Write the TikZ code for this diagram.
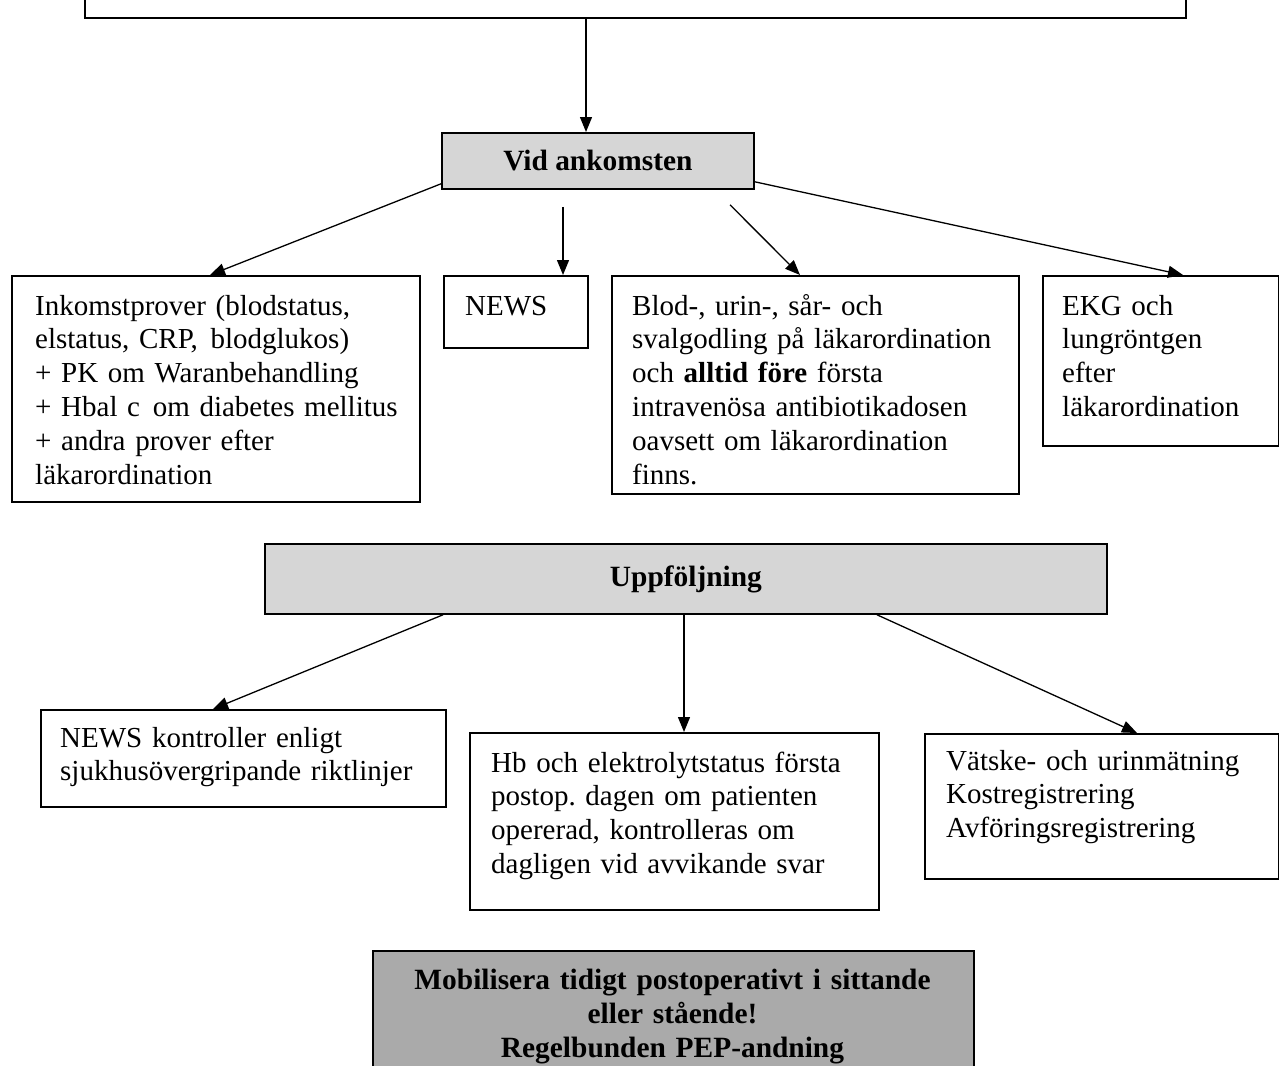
\documentclass[tikz,border=0pt]{standalone}
\usepackage{fontspec}
\setmainfont{Liberation Serif}
\usetikzlibrary{arrows.meta,calc}
\definecolor{lightfill}{RGB}{214,214,214}
\definecolor{darkfill}{RGB}{170,170,170}
\begin{document}
\begin{tikzpicture}[x=1pt,y=-1pt,
  box/.style={draw=black, line width=1.8pt, rectangle, inner sep=0pt, anchor=north west},
  hdr/.style={box, fill=lightfill, font=\fontsize{29.4}{33.8}\selectfont\bfseries},
  txt/.style={anchor=base west, inner sep=0pt, text width=500pt, align=left, font=\fontsize{29}{33.8}\selectfont},
  arr/.style={line width=1.3pt, -{Triangle[length=15pt,width=12pt]}}
]
\useasboundingbox (0,0) rectangle (1279,1065);
\clip (0,0) rectangle (1279,1065);

% boxes
\node[box, minimum width=1101pt, minimum height=77pt] (top) at (84,-60) {};
\node[hdr, minimum width=312pt, minimum height=56pt] (vid) at (441,132) {Vid ankomsten};
\node[box, minimum width=408pt, minimum height=226pt] (ink) at (11,275) {};
\node[box, minimum width=144pt, minimum height=72pt] (news) at (443,275) {};
\node[box, minimum width=407pt, minimum height=218pt] (blod) at (611,275) {};
\node[box, minimum width=236pt, minimum height=170pt] (ekg) at (1042,275) {};
\node[hdr, minimum width=842pt, minimum height=70pt] (upp) at (264,543) {Uppföljning};
\node[box, minimum width=405pt, minimum height=97pt] (nk) at (40,709) {};
\node[box, minimum width=409pt, minimum height=177pt] (hb) at (469,732) {};
\node[box, minimum width=354pt, minimum height=145pt] (vat) at (924,733) {};
\node[box, fill=darkfill, minimum width=601pt, minimum height=140pt] (mob) at (372,950) {};

% texts
\node[txt] (inkt) at (35,315) {Inkomstprover (blodstatus,\\elstatus, CRP,\hspace{3pt} blodglukos)\\+ PK om Waranbehandling\\+ Hbal c\hspace{3pt} om diabetes mellitus\\+ andra prover efter\\läkarordination};
\node[txt] (newst) at (465,315) {NEWS};
\node[txt] (blodt) at (632,315) {Blod-, urin-, sår- och\\svalgodling på läkarordination\\och \textbf{alltid före} första\\intravenösa antibiotikadosen\\oavsett om läkarordination\\finns.};
\node[txt] (ekgt) at (1062,315) {EKG och\\lungröntgen\\efter\\läkarordination};
\node[txt] (nkt) at (60,747) {NEWS kontroller enligt\\sjukhusövergripande riktlinjer};
\node[txt] (hbt) at (491,772) {Hb och elektrolytstatus första\\postop.\ dagen om patienten\\opererad, kontrolleras om\\dagligen vid avvikande svar};
\node[txt] (vatt) at (946,770) {Vätske- och urinmätning\\Kostregistrering\\Avföringsregistrering};
\node[anchor=base, inner sep=0pt, text width=600pt, align=center, font=\fontsize{29.4}{34}\selectfont\bfseries] (mobt) at (672.5,989) {Mobilisera tidigt postoperativt i sittande\\eller stående!\\Regelbunden PEP-andning};

% connectors
\coordinate (a1) at ([xshift=145pt]vid.north west);
\draw[arr] (top.south -| a1) -- (a1);
\draw[arr] ([yshift=6pt]vid.south west) -- ([xshift=199pt]ink.north west);
\coordinate (s3) at ([xshift=122pt,yshift=-17pt]vid.south west);
\draw[arr] (s3) -- (s3 |- news.north);
\coordinate (s4) at ([xshift=289pt,yshift=-15pt]vid.south west);
\draw[arr] (s4) -- ([xshift=189pt]blod.north west);
\draw[arr] ([yshift=8pt]vid.south east) -- ([xshift=141pt]ekg.north west);
\draw[arr] ([xshift=179pt]upp.south west) -- ([xshift=173pt]nk.north west);
\coordinate (s7) at ([xshift=420pt]upp.south west);
\draw[arr] (s7) -- (s7 |- hb.north);
\draw[arr] ([xshift=613pt]upp.south west) -- ([xshift=213pt]vat.north west);
\end{tikzpicture}
\end{document}
